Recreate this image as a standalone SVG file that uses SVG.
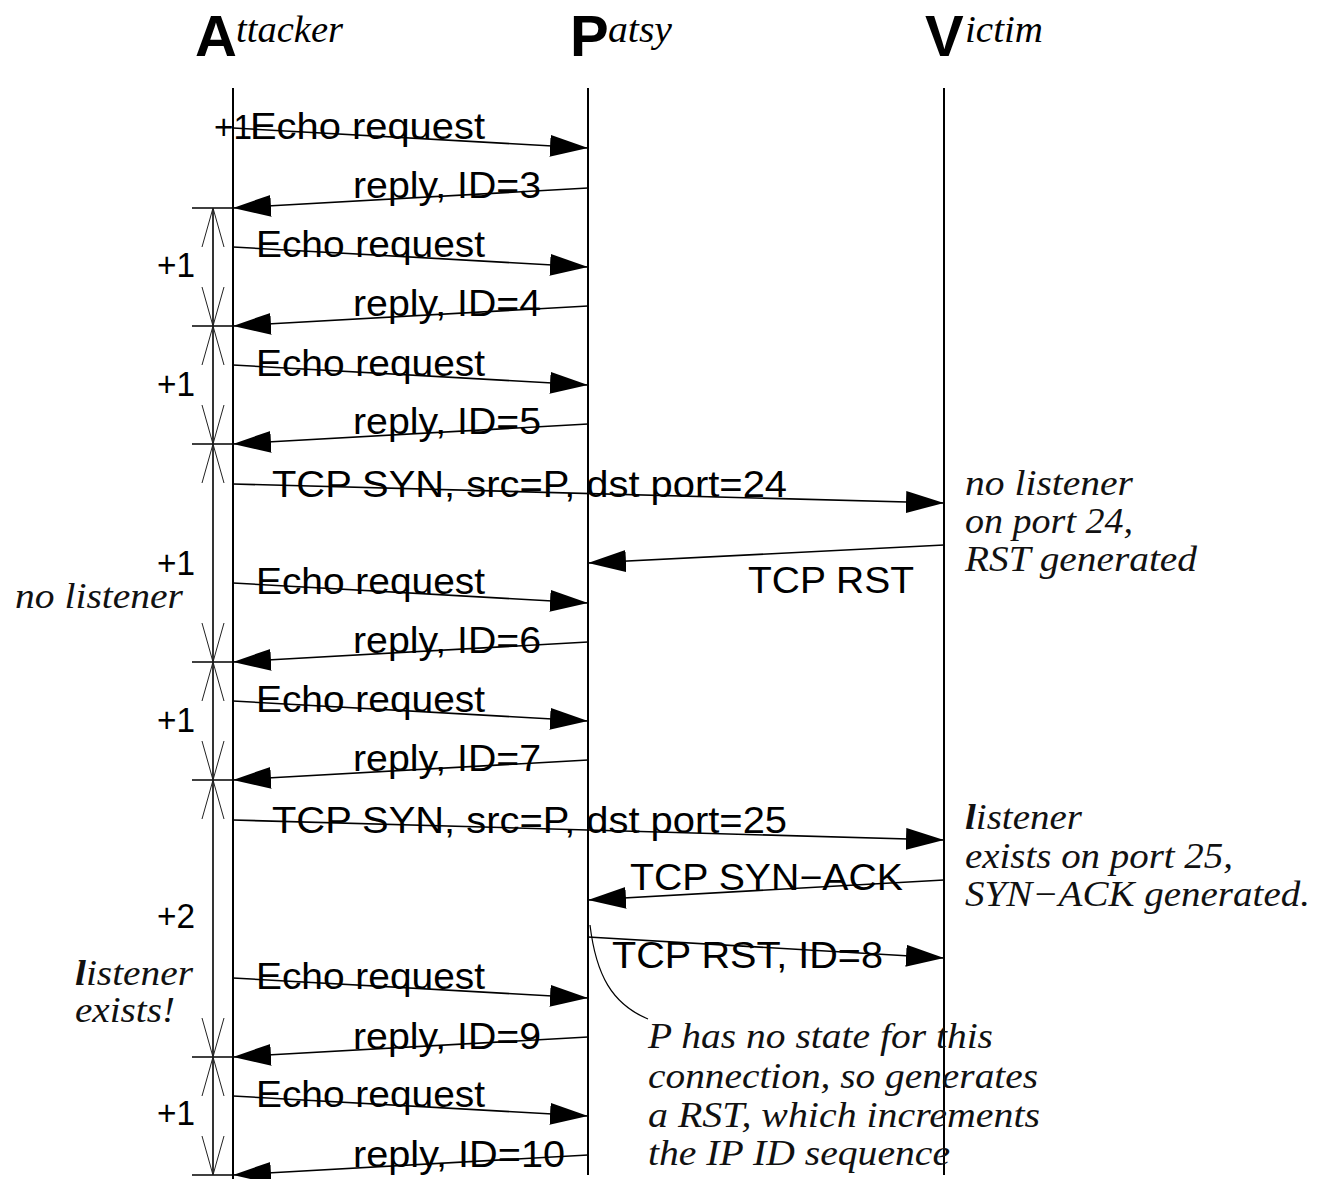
<svg xmlns="http://www.w3.org/2000/svg" xmlns:xlink="http://www.w3.org/1999/xlink" width="1317" height="1179" viewBox="0 0 1317 1179">
<style>
.life{stroke:#000;stroke-width:2;fill:none}
.msg{stroke:#000;stroke-width:1.6;fill:none;marker-end:url(#tri)}
.lbl{font-family:"Liberation Sans",Arial,sans-serif;font-size:37px;fill:#000}
.num{font-family:"Liberation Sans",Arial,sans-serif;font-size:35px;fill:#000}
.big{font-family:"Liberation Sans",Arial,sans-serif;font-size:58px;font-weight:bold;fill:#000}
.hdr{font-family:"Liberation Serif","Times New Roman",serif;font-size:38px;font-style:italic;fill:#000}
.note{font-family:"Liberation Serif","Times New Roman",serif;font-size:36px;font-style:italic;fill:#111}
.dim{stroke:#000;stroke-width:1.6;fill:none}
.v{stroke:#222;stroke-width:1;fill:none}
.curve{stroke:#000;stroke-width:1.2;fill:none}
</style>
<defs>
<marker id="tri" markerUnits="userSpaceOnUse" markerWidth="40" markerHeight="24" refX="38" refY="11" orient="auto">
<path d="M0,0 L38,11 L0,22 Z" fill="#000"/>
</marker>
<path id="vup" d="M-11,39 L0,0 L11,39"/>
<path id="vdown" d="M-11,-39 L0,0 L11,-39"/>
</defs>
<rect width="1317" height="1179" fill="#fff"/>

<g id="attacker">
<text class="big" x="195" y="56">A</text><text class="hdr" x="236" y="42" textLength="107" lengthAdjust="spacingAndGlyphs">ttacker</text>
<line class="life" x1="233" y1="88" x2="233" y2="1179"/>
</g>
<g id="patsy">
<text class="big" x="570" y="56">P</text><text class="hdr" x="608" y="42" textLength="64" lengthAdjust="spacingAndGlyphs">atsy</text>
<line class="life" x1="588" y1="88" x2="588" y2="1175"/>
</g>
<g id="victim">
<text class="big" x="925" y="56">V</text><text class="hdr" x="965" y="42" textLength="78" lengthAdjust="spacingAndGlyphs">ictim</text>
<line class="life" x1="944" y1="88" x2="944" y2="1175"/>
</g>

<g id="counter">
<line class="dim" x1="213" y1="208" x2="213" y2="1175"/>
<g class="dim">
<line x1="192" y1="208" x2="233" y2="208"/>
<line x1="192" y1="326" x2="233" y2="326"/>
<line x1="192" y1="444" x2="233" y2="444"/>
<line x1="192" y1="662" x2="233" y2="662"/>
<line x1="192" y1="780" x2="233" y2="780"/>
<line x1="192" y1="1057" x2="233" y2="1057"/>
<line x1="192" y1="1175" x2="233" y2="1175"/>
</g>
<g class="v">
<use xlink:href="#vup" x="213" y="208"/>
<use xlink:href="#vdown" x="213" y="326"/><use xlink:href="#vup" x="213" y="326"/>
<use xlink:href="#vdown" x="213" y="444"/><use xlink:href="#vup" x="213" y="444"/>
<use xlink:href="#vdown" x="213" y="662"/><use xlink:href="#vup" x="213" y="662"/>
<use xlink:href="#vdown" x="213" y="780"/><use xlink:href="#vup" x="213" y="780"/>
<use xlink:href="#vdown" x="213" y="1057"/><use xlink:href="#vup" x="213" y="1057"/>
<use xlink:href="#vdown" x="213" y="1175"/>
</g>
<text class="num" x="157" y="277" textLength="38" lengthAdjust="spacingAndGlyphs">+1</text>
<text class="num" x="157" y="396" textLength="38" lengthAdjust="spacingAndGlyphs">+1</text>
<text class="num" x="157" y="575" textLength="38" lengthAdjust="spacingAndGlyphs">+1</text>
<text class="note" x="15" y="608" textLength="168" lengthAdjust="spacingAndGlyphs">no listener</text>
<text class="num" x="157" y="732" textLength="38" lengthAdjust="spacingAndGlyphs">+1</text>
<text class="num" x="157" y="928" textLength="38" lengthAdjust="spacingAndGlyphs">+2</text>
<text class="note" x="75" y="985" textLength="118" lengthAdjust="spacingAndGlyphs"><tspan font-weight="bold">l</tspan>istener</text>
<text class="note" x="75" y="1022" textLength="100" lengthAdjust="spacingAndGlyphs">exists!</text>
<text class="num" x="157" y="1125" textLength="38" lengthAdjust="spacingAndGlyphs">+1</text>
</g>

<g id="labels">
<text class="num" x="214" y="139" textLength="38" lengthAdjust="spacingAndGlyphs">+1</text>
<text class="lbl" x="250" y="139" textLength="235" lengthAdjust="spacingAndGlyphs">Echo request</text>
<text class="lbl" x="353" y="198" textLength="188" lengthAdjust="spacingAndGlyphs">reply, ID=3</text>
<text class="lbl" x="256" y="257" textLength="229" lengthAdjust="spacingAndGlyphs">Echo request</text>
<text class="lbl" x="353" y="316" textLength="188" lengthAdjust="spacingAndGlyphs">reply, ID=4</text>
<text class="lbl" x="256" y="376" textLength="229" lengthAdjust="spacingAndGlyphs">Echo request</text>
<text class="lbl" x="353" y="434" textLength="188" lengthAdjust="spacingAndGlyphs">reply, ID=5</text>
<text class="lbl" x="272" y="497" textLength="515" lengthAdjust="spacingAndGlyphs">TCP SYN, src=P, dst port=24</text>
<text class="lbl" x="748" y="593" textLength="166" lengthAdjust="spacingAndGlyphs">TCP RST</text>
<text class="lbl" x="256" y="594" textLength="229" lengthAdjust="spacingAndGlyphs">Echo request</text>
<text class="lbl" x="353" y="653" textLength="188" lengthAdjust="spacingAndGlyphs">reply, ID=6</text>
<text class="lbl" x="256" y="712" textLength="229" lengthAdjust="spacingAndGlyphs">Echo request</text>
<text class="lbl" x="353" y="771" textLength="188" lengthAdjust="spacingAndGlyphs">reply, ID=7</text>
<text class="lbl" x="272" y="833" textLength="515" lengthAdjust="spacingAndGlyphs">TCP SYN, src=P, dst port=25</text>
<text class="lbl" x="630" y="890" textLength="273" lengthAdjust="spacingAndGlyphs">TCP SYN−ACK</text>
<text class="lbl" x="612" y="968" textLength="271" lengthAdjust="spacingAndGlyphs">TCP RST, ID=8</text>
<text class="lbl" x="256" y="989" textLength="229" lengthAdjust="spacingAndGlyphs">Echo request</text>
<text class="lbl" x="353" y="1049" textLength="188" lengthAdjust="spacingAndGlyphs">reply, ID=9</text>
<text class="lbl" x="256" y="1107" textLength="229" lengthAdjust="spacingAndGlyphs">Echo request</text>
<text class="lbl" x="353" y="1167" textLength="212" lengthAdjust="spacingAndGlyphs">reply, ID=10</text>
</g>

<g id="connectors">
<line class="msg" x1="233" y1="128" x2="588" y2="148"/>
<line class="msg" x1="588" y1="188" x2="233" y2="208"/>
<line class="msg" x1="233" y1="247" x2="588" y2="267"/>
<line class="msg" x1="588" y1="306" x2="233" y2="326"/>
<line class="msg" x1="233" y1="365" x2="588" y2="385"/>
<line class="msg" x1="588" y1="424" x2="233" y2="444"/>
<line class="msg" x1="233" y1="484" x2="944" y2="503"/>
<line class="msg" x1="944" y1="545" x2="588" y2="563"/>
<line class="msg" x1="233" y1="583" x2="588" y2="603"/>
<line class="msg" x1="588" y1="642" x2="233" y2="662"/>
<line class="msg" x1="233" y1="701" x2="588" y2="721"/>
<line class="msg" x1="588" y1="760" x2="233" y2="780"/>
<line class="msg" x1="233" y1="820" x2="944" y2="840"/>
<line class="msg" x1="944" y1="880" x2="588" y2="900"/>
<line class="msg" x1="588" y1="937" x2="944" y2="958"/>
<line class="msg" x1="233" y1="978" x2="588" y2="998"/>
<line class="msg" x1="588" y1="1037" x2="233" y2="1057"/>
<line class="msg" x1="233" y1="1096" x2="588" y2="1116"/>
<line class="msg" x1="588" y1="1155" x2="233" y2="1175"/>
<path class="curve" d="M590,925 C596,975 612,1004 648,1019"/>
</g>

<g id="notes">
<text class="note" x="965" y="495" textLength="168" lengthAdjust="spacingAndGlyphs">no listener</text>
<text class="note" x="965" y="533" textLength="168" lengthAdjust="spacingAndGlyphs">on port 24,</text>
<text class="note" x="965" y="571" textLength="232" lengthAdjust="spacingAndGlyphs">RST generated</text>
<text class="note" x="965" y="829" textLength="117" lengthAdjust="spacingAndGlyphs"><tspan font-weight="bold">l</tspan>istener</text>
<text class="note" x="965" y="868" textLength="268" lengthAdjust="spacingAndGlyphs">exists on port 25,</text>
<text class="note" x="965" y="906" textLength="345" lengthAdjust="spacingAndGlyphs">SYN−ACK generated.</text>
<text class="note" x="648" y="1048" textLength="345" lengthAdjust="spacingAndGlyphs">P has no state for this</text>
<text class="note" x="648" y="1088" textLength="390" lengthAdjust="spacingAndGlyphs">connection, so generates</text>
<text class="note" x="648" y="1127" textLength="392" lengthAdjust="spacingAndGlyphs">a RST, which increments</text>
<text class="note" x="648" y="1165" textLength="302" lengthAdjust="spacingAndGlyphs">the IP ID sequence</text>
</g>
</svg>
